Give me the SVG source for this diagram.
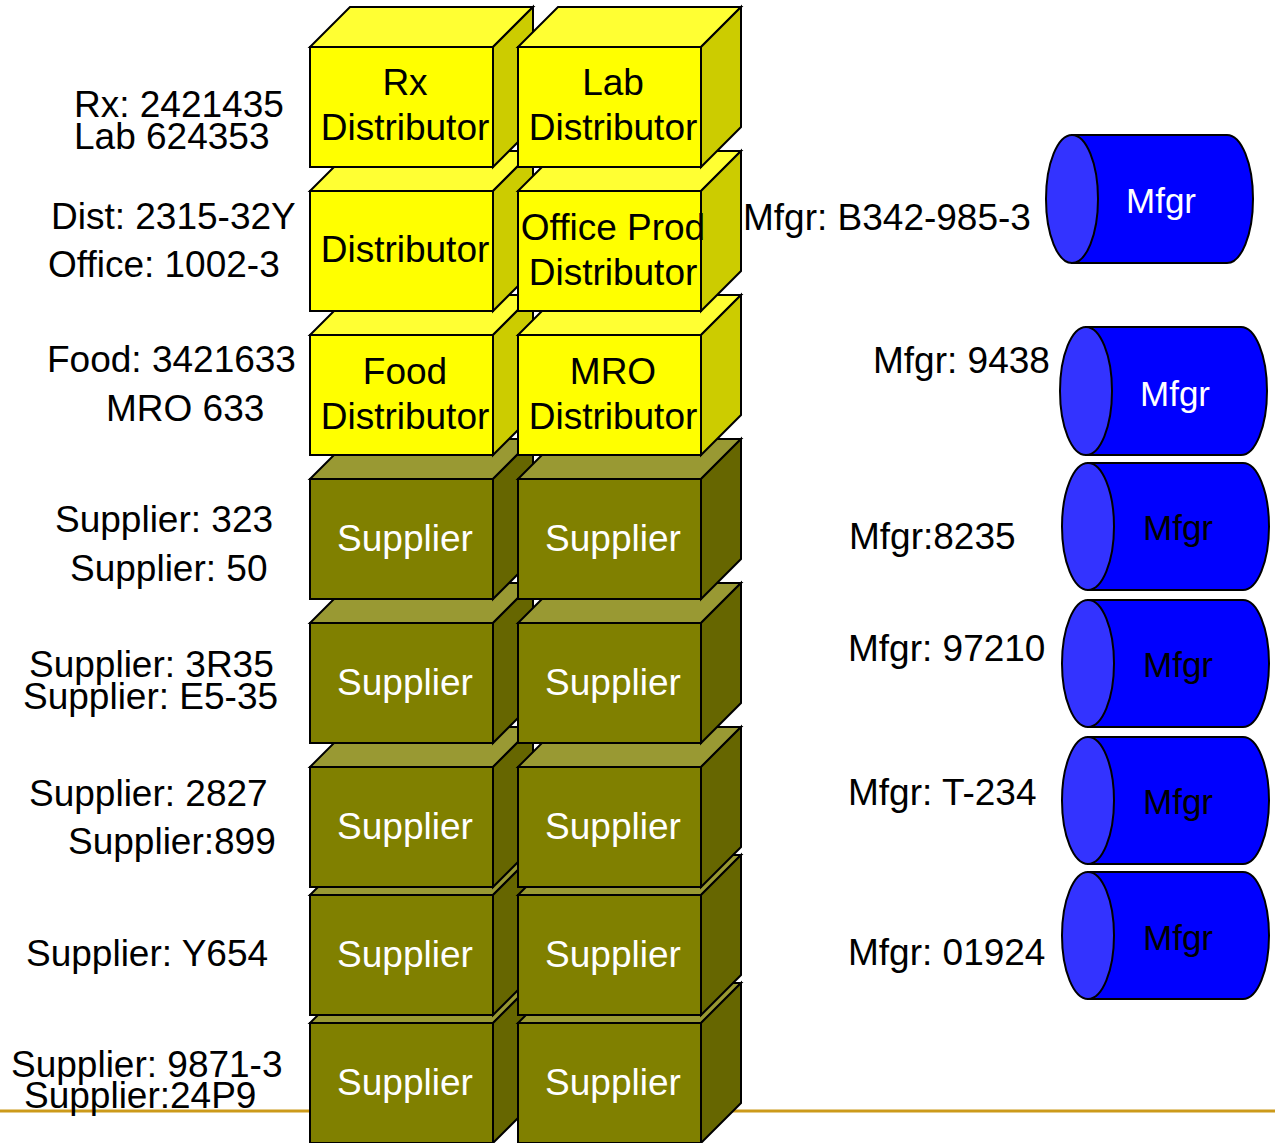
<svg xmlns="http://www.w3.org/2000/svg" xmlns:xlink="http://www.w3.org/1999/xlink" width="1275" height="1143" viewBox="0 0 1275 1143">
  <style>
    text { font-family: "Liberation Sans", Arial, sans-serif; font-size: 37px; }
    .lbl { fill: #000; }
    .ctr { text-anchor: middle; }
    .dark { fill: #000; }
    .light { fill: #fff; }
    .edge { stroke: #000; stroke-width: 2; stroke-linejoin: miter; }
    .yf { fill: #FFFF00; }
    .yt { fill: #FFFF33; }
    .ys { fill: #CCCC00; }
    .of { fill: #808000; }
    .ot { fill: #999933; }
    .os { fill: #666600; }
    .cb { fill: #0000FF; }
    .ce { fill: #3333FF; }
    .mf { font-size: 35px; text-anchor: middle; }
  </style>
  <defs>
    <!-- box shapes: front face at origin, 183 x 120, depth offset 40 up-right -->
    <g id="yellowBox">
      <polygon class="yt edge" points="0,0 40,-40 223,-40 183,0"/>
      <polygon class="ys edge" points="183,0 223,-40 223,80 183,120"/>
      <rect class="yf edge" x="0" y="0" width="183" height="120"/>
    </g>
    <g id="oliveBox">
      <polygon class="ot edge" points="0,0 40,-40 223,-40 183,0"/>
      <polygon class="os edge" points="183,0 223,-40 223,80 183,120"/>
      <rect class="of edge" x="0" y="0" width="183" height="120"/>
    </g>
  </defs>

  <rect x="0" y="0" width="1275" height="1143" fill="#fff"/>

  <!-- footer rule -->
  <line x1="0" y1="1111" x2="1275" y2="1111" stroke="#CC9A1A" stroke-width="3"/>

  <!-- stack of boxes, drawn from the bottom row upward -->
  <g id="sup-r5-left" transform="translate(310,1023)">
    <use xlink:href="#oliveBox"/>
    <text class="ctr light" x="95" y="72">Supplier</text>
  </g>
  <g id="sup-r5-right" transform="translate(518,1023)">
    <use xlink:href="#oliveBox"/>
    <text class="ctr light" x="95" y="72">Supplier</text>
  </g>

  <g id="sup-r4-left" transform="translate(310,895)">
    <use xlink:href="#oliveBox"/>
    <text class="ctr light" x="95" y="72">Supplier</text>
  </g>
  <g id="sup-r4-right" transform="translate(518,895)">
    <use xlink:href="#oliveBox"/>
    <text class="ctr light" x="95" y="72">Supplier</text>
  </g>

  <g id="sup-r3-left" transform="translate(310,767)">
    <use xlink:href="#oliveBox"/>
    <text class="ctr light" x="95" y="72">Supplier</text>
  </g>
  <g id="sup-r3-right" transform="translate(518,767)">
    <use xlink:href="#oliveBox"/>
    <text class="ctr light" x="95" y="72">Supplier</text>
  </g>

  <g id="sup-r2-left" transform="translate(310,623)">
    <use xlink:href="#oliveBox"/>
    <text class="ctr light" x="95" y="72">Supplier</text>
  </g>
  <g id="sup-r2-right" transform="translate(518,623)">
    <use xlink:href="#oliveBox"/>
    <text class="ctr light" x="95" y="72">Supplier</text>
  </g>

  <g id="sup-r1-left" transform="translate(310,479)">
    <use xlink:href="#oliveBox"/>
    <text class="ctr light" x="95" y="72">Supplier</text>
  </g>
  <g id="sup-r1-right" transform="translate(518,479)">
    <use xlink:href="#oliveBox"/>
    <text class="ctr light" x="95" y="72">Supplier</text>
  </g>

  <g id="food-distributor" transform="translate(310,335)">
    <use xlink:href="#yellowBox"/>
    <text class="ctr dark" x="95" y="49">Food</text>
    <text class="ctr dark" x="95" y="94">Distributor</text>
  </g>
  <g id="mro-distributor" transform="translate(518,335)">
    <use xlink:href="#yellowBox"/>
    <text class="ctr dark" x="95" y="49">MRO</text>
    <text class="ctr dark" x="95" y="94">Distributor</text>
  </g>

  <g id="distributor" transform="translate(310,191)">
    <use xlink:href="#yellowBox"/>
    <text class="ctr dark" x="95" y="71">Distributor</text>
  </g>
  <g id="office-distributor" transform="translate(518,191)">
    <use xlink:href="#yellowBox"/>
    <text class="ctr dark" x="95" y="49">Office Prod</text>
    <text class="ctr dark" x="95" y="94">Distributor</text>
  </g>

  <g id="rx-distributor" transform="translate(310,47)">
    <use xlink:href="#yellowBox"/>
    <text class="ctr dark" x="95" y="48">Rx</text>
    <text class="ctr dark" x="95" y="93">Distributor</text>
  </g>
  <g id="lab-distributor" transform="translate(518,47)">
    <use xlink:href="#yellowBox"/>
    <text class="ctr dark" x="95" y="48">Lab</text>
    <text class="ctr dark" x="95" y="93">Distributor</text>
  </g>

  <!-- account numbers beside the stack -->
  <g id="left-labels" class="lbl">
    <text x="74" y="117">Rx: 2421435</text>
    <text x="74" y="149">Lab 624353</text>
    <text x="51" y="229">Dist: 2315-32Y</text>
    <text x="48" y="277">Office: 1002-3</text>
    <text x="47" y="372">Food: 3421633</text>
    <text x="106" y="421">MRO 633</text>
    <text x="55" y="532">Supplier: 323</text>
    <text x="70" y="581">Supplier: 50</text>
    <text x="29" y="677">Supplier: 3R35</text>
    <text x="23" y="709">Supplier: E5-35</text>
    <text x="29" y="806">Supplier: 2827</text>
    <text x="68" y="854">Supplier:899</text>
    <text x="26" y="966">Supplier: Y654</text>
    <text x="11" y="1077">Supplier: 9871-3</text>
    <text x="24" y="1108">Supplier:24P9</text>
  </g>

  <g id="right-labels" class="lbl">
    <text x="743" y="230">Mfgr: B342-985-3</text>
    <text x="873" y="373">Mfgr: 9438</text>
    <text x="849" y="549">Mfgr:8235</text>
    <text x="848" y="661">Mfgr: 97210</text>
    <text x="848" y="805">Mfgr: T-234</text>
    <text x="848" y="965">Mfgr: 01924</text>
  </g>

  <!-- manufacturer cylinders -->
  <g id="mfgr-1">
    <path class="cb edge" d="M1072,135 L1227,135 A26,64 0 0 1 1227,263 L1072,263 Z"/>
    <ellipse class="ce edge" cx="1072" cy="199" rx="26" ry="64"/>
    <text class="mf light" x="1161" y="213">Mfgr</text>
  </g>
  <g id="mfgr-2">
    <path class="cb edge" d="M1086,327 L1241,327 A26,64 0 0 1 1241,455 L1086,455 Z"/>
    <ellipse class="ce edge" cx="1086" cy="391" rx="26" ry="64"/>
    <text class="mf light" x="1175" y="406">Mfgr</text>
  </g>
  <g id="mfgr-3">
    <path class="cb edge" d="M1088,463 L1243,463 A26,63.5 0 0 1 1243,590 L1088,590 Z"/>
    <ellipse class="ce edge" cx="1088" cy="526.5" rx="26" ry="63.5"/>
    <text class="mf dark" x="1178" y="540">Mfgr</text>
  </g>
  <g id="mfgr-4">
    <path class="cb edge" d="M1088,600 L1243,600 A26,63.5 0 0 1 1243,727 L1088,727 Z"/>
    <ellipse class="ce edge" cx="1088" cy="663.5" rx="26" ry="63.5"/>
    <text class="mf dark" x="1178" y="677">Mfgr</text>
  </g>
  <g id="mfgr-5">
    <path class="cb edge" d="M1088,737 L1243,737 A26,63.5 0 0 1 1243,864 L1088,864 Z"/>
    <ellipse class="ce edge" cx="1088" cy="800.5" rx="26" ry="63.5"/>
    <text class="mf dark" x="1178" y="814">Mfgr</text>
  </g>
  <g id="mfgr-6">
    <path class="cb edge" d="M1088,872 L1243,872 A26,63.5 0 0 1 1243,999 L1088,999 Z"/>
    <ellipse class="ce edge" cx="1088" cy="935.5" rx="26" ry="63.5"/>
    <text class="mf dark" x="1178" y="950">Mfgr</text>
  </g>

  <!-- no connectors in this figure -->
  <g id="connectors"/>
</svg>
